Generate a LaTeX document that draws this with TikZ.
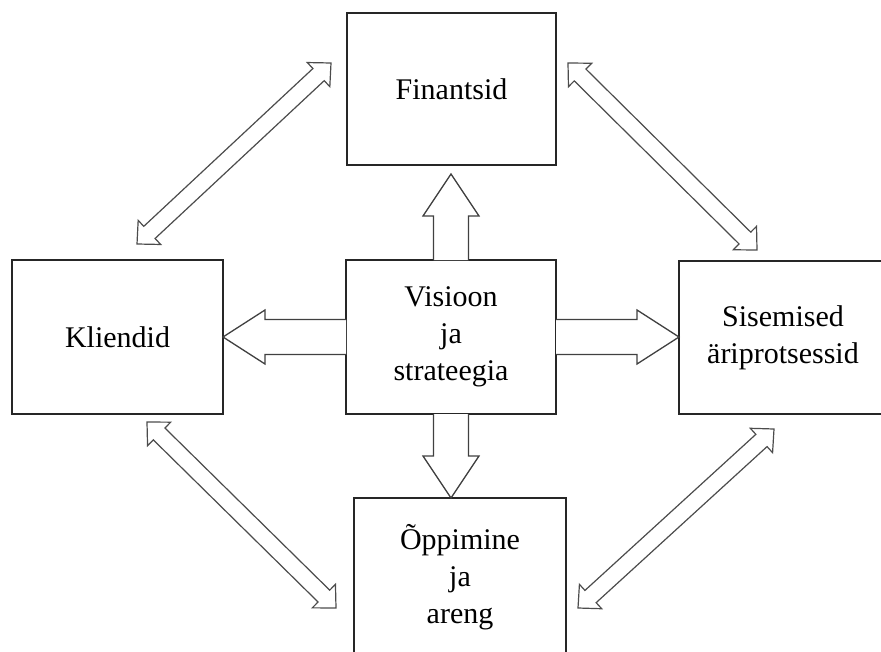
\documentclass[tikz,border=0pt]{standalone}
\usepackage{fontspec}
\setmainfont{Liberation Serif}
\usetikzlibrary{calc}
% single block arrow from #1 (open base) to #2 (tip); #3 half shaft, #4 half head, #5 head length
\newcommand{\sglblock}[5]{%
  \draw[blockarr] ($(#1)!#3!90:(#2)$) -- ($(#2)!#5!(#1)!#3!-90:(#1)$) -- ($(#2)!#5!(#1)!#4!-90:(#1)$)
    -- (#2) -- ($(#2)!#5!(#1)!#4!90:(#1)$) -- ($(#2)!#5!(#1)!#3!90:(#1)$) -- ($(#1)!#3!-90:(#2)$);}
% double block arrow between #1 and #2
\newcommand{\dblblock}[5]{%
  \draw[diagarr] (#1) -- ($(#1)!#5!(#2)!#4!90:(#2)$) -- ($(#1)!#5!(#2)!#3!90:(#2)$)
    -- ($(#2)!#5!(#1)!#3!-90:(#1)$) -- ($(#2)!#5!(#1)!#4!-90:(#1)$) -- (#2)
    -- ($(#2)!#5!(#1)!#4!90:(#1)$) -- ($(#2)!#5!(#1)!#3!90:(#1)$)
    -- ($(#1)!#5!(#2)!#3!-90:(#2)$) -- ($(#1)!#5!(#2)!#4!-90:(#2)$) -- cycle;}
\begin{document}
\begin{tikzpicture}[x=1pt,y=-1pt,
  box/.style={draw=black!85, line width=1.4pt, fill=white, outer sep=0pt, inner sep=0pt,
    align=center, font=\fontsize{30}{37}\selectfont},
  blockarr/.style={draw=black!75, line width=1.3pt, fill=white, line join=miter},
  diagarr/.style={draw=black!70, line width=1.2pt, fill=white, line join=miter}]
\useasboundingbox (0,0) rectangle (881,651);
\clip (0,0) rectangle (881,651);
\node[box, minimum width=209pt, minimum height=152pt] (fin) at (451.5,89) {Finantsid};
\node[box, minimum width=211pt, minimum height=154pt] (kli) at (117.5,337) {Kliendid};
\node[box, minimum width=210pt, minimum height=154pt] (vis) at (451,337) {Visioon\\ja\\strateegia};
\node[box, minimum width=208pt, minimum height=153pt] (sis) at (783,337.5) {Sisemised\\äriprotsessid};
\node[box, minimum width=212pt, minimum height=159pt] (opp) at (460,577.5) {Õppimine\\ja\\areng};
% straight block arrows from the centre box
\coordinate (uptip) at (451,174);
\coordinate (dntip) at (vis.south |- opp.north);
\coordinate (lftip) at (vis.west -| kli.east);
\coordinate (rttip) at (vis.east -| sis.west);
\sglblock{vis.north}{uptip}{17.5pt}{28pt}{42pt}
\sglblock{vis.south}{dntip}{17.5pt}{28pt}{42pt}
\sglblock{vis.west}{lftip}{17.5pt}{27pt}{42pt}
\sglblock{vis.east}{rttip}{17.5pt}{27pt}{42pt}
% diagonal double block arrows
\coordinate (ulA) at (137,244);
\coordinate (ulB) at (331,63);
\coordinate (urA) at (568,63);
\coordinate (urB) at (757,250);
\coordinate (llA) at (147,422);
\coordinate (llB) at (336,608);
\coordinate (lrA) at (578,608);
\coordinate (lrB) at (774,429);
\dblblock{ulA}{ulB}{8.3pt}{16.5pt}{17pt}
\dblblock{urA}{urB}{8.3pt}{16.5pt}{17pt}
\dblblock{llA}{llB}{8.3pt}{16.5pt}{17pt}
\dblblock{lrA}{lrB}{8.3pt}{16.5pt}{17pt}
\end{tikzpicture}
\end{document}
